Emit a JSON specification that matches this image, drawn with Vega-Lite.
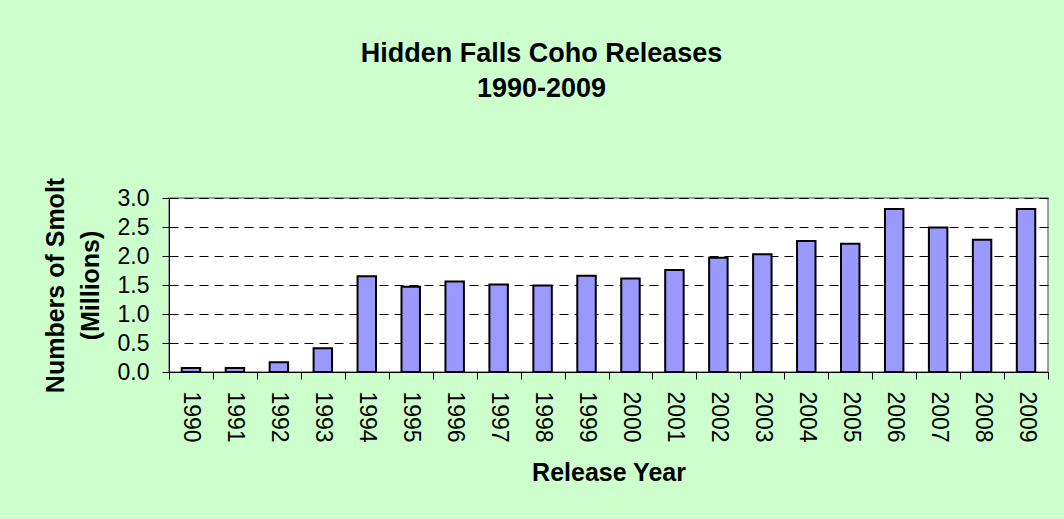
{
  "$schema": "https://vega.github.io/schema/vega-lite/v6.json",
  "autosize": {"type": "none"},
  "width": 879,
  "height": 174,
  "padding": {"left": 169, "top": 198, "right": 16, "bottom": 147},
  "background": "#CCFFCC",
  "title": {
    "text": ["Hidden Falls Coho Releases", "1990-2009"],
    "font": "Liberation Sans",
    "fontSize": 27,
    "fontWeight": "bold",
    "color": "black",
    "lineHeight": 35,
    "anchor": "middle",
    "frame": "group",
    "dx": -67,
    "offset": 74
  },
  "data": {
    "values": [
      {"year": "1990", "smolt": 0.07},
      {"year": "1991", "smolt": 0.07},
      {"year": "1992", "smolt": 0.17},
      {"year": "1993", "smolt": 0.41},
      {"year": "1994", "smolt": 1.65},
      {"year": "1995", "smolt": 1.47},
      {"year": "1996", "smolt": 1.56},
      {"year": "1997", "smolt": 1.51},
      {"year": "1998", "smolt": 1.49},
      {"year": "1999", "smolt": 1.66},
      {"year": "2000", "smolt": 1.61},
      {"year": "2001", "smolt": 1.76},
      {"year": "2002", "smolt": 1.97},
      {"year": "2003", "smolt": 2.03},
      {"year": "2004", "smolt": 2.26},
      {"year": "2005", "smolt": 2.21},
      {"year": "2006", "smolt": 2.81},
      {"year": "2007", "smolt": 2.49},
      {"year": "2008", "smolt": 2.28},
      {"year": "2009", "smolt": 2.81}
    ]
  },
  "mark": {"type": "bar", "fill": "#9999FF", "stroke": "black", "strokeWidth": 2, "width": {"band": 0.42}},
  "encoding": {
    "x": {
      "field": "year",
      "type": "ordinal",
      "scale": {"paddingInner": 0, "paddingOuter": 0},
      "axis": {
        "title": "Release Year",
        "titleFont": "Liberation Sans",
        "titleFontSize": 25,
        "titleFontWeight": "bold",
        "titleColor": "black",
        "titlePadding": 18,
        "labelAngle": 90,
        "labelFont": "Liberation Sans",
        "labelFontSize": 23,
        "labelColor": "black",
        "labelPadding": 12,
        "tickBand": "extent",
        "tickSize": 7,
        "tickColor": "black",
        "domainColor": "black",
        "grid": false
      }
    },
    "y": {
      "field": "smolt",
      "type": "quantitative",
      "scale": {"domain": [0, 3], "nice": false},
      "axis": {
        "title": ["Numbers of Smolt", "(Millions)"],
        "titleFont": "Liberation Sans",
        "titleFontSize": 25,
        "titleFontWeight": "bold",
        "titleColor": "black",
        "titleLineHeight": 35,
        "titlePadding": 14,
        "values": [0, 0.5, 1, 1.5, 2, 2.5, 3],
        "format": ".1f",
        "labelFont": "Liberation Sans",
        "labelFontSize": 23,
        "labelColor": "black",
        "labelPadding": 13,
        "tickSize": 7,
        "tickColor": "black",
        "domainColor": "black",
        "grid": true,
        "gridColor": "black",
        "gridDash": [9, 6],
        "gridWidth": 1
      }
    }
  },
  "config": {
    "view": {"fill": "white", "stroke": "#808080", "strokeWidth": 1.5}
  }
}
